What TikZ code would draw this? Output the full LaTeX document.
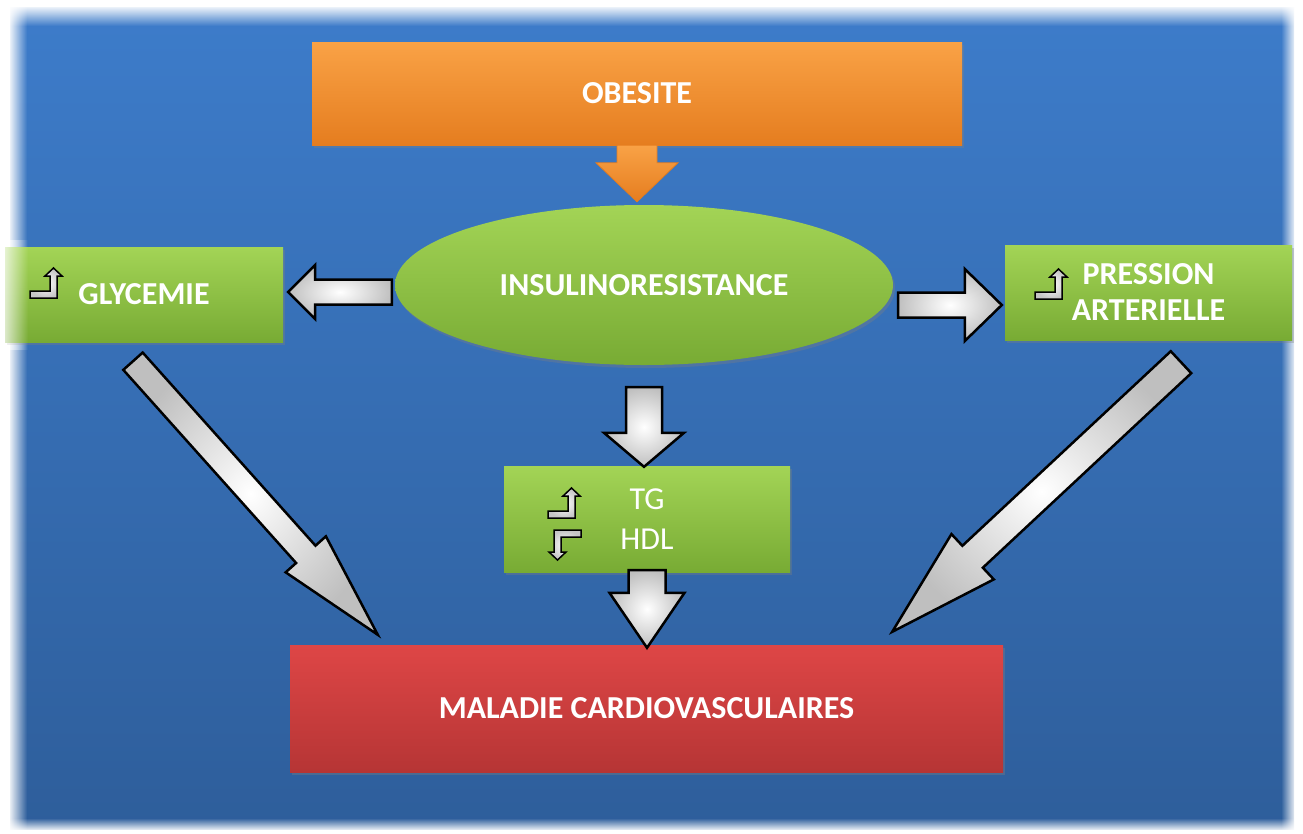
\documentclass[tikz,border=0pt]{standalone}
\usepackage{fontspec}
\setmainfont{Carlito}
\usetikzlibrary{shapes.geometric,calc,shadows,fadings}

\definecolor{bgtop}{HTML}{3D7CCA}
\definecolor{bgbot}{HTML}{2E5E9B}
\definecolor{greentop}{HTML}{A3D456}
\definecolor{greenbot}{HTML}{78AB34}
\definecolor{orangetop}{HTML}{F9A246}
\definecolor{orangebot}{HTML}{E57D1F}
\definecolor{redtop}{HTML}{DE4646}
\definecolor{redbot}{HTML}{B63535}

\tikzfading[name=fadeleft, left color=transparent!0, right color=transparent!100]
\tikzfading[name=faderight, left color=transparent!100, right color=transparent!0]
\tikzfading[name=fadetop, top color=transparent!0, bottom color=transparent!100]
\tikzfading[name=fadebot, top color=transparent!100, bottom color=transparent!0]

% block arrow: [style]{from}{to}{shaft half width}{head half width}{head length}
\newcommand{\blockarrow}[6][]{%
  \coordinate (ba-c) at ($(#3)!#6!(#2)$);
  \draw[#1] ($(#2)!#4!90:(#3)$) -- ($(ba-c)!#4!-90:(#2)$) -- ($(ba-c)!#5!-90:(#2)$)
    -- (#3) -- ($(ba-c)!#5!90:(#2)$) -- ($(ba-c)!#4!90:(#2)$) -- ($(#2)!#4!-90:(#3)$) -- cycle;
}

\tikzset{
  box/.style={rectangle, text=white, align=center, inner sep=0pt,
    font=\bfseries\fontsize{32}{36}\selectfont,
    drop shadow={shadow xshift=2pt, shadow yshift=-3pt, opacity=0.35}},
  greenbox/.style={box, top color=greentop, bottom color=greenbot},
  orangebox/.style={box, top color=orangetop, bottom color=orangebot},
  redbox/.style={box, top color=redtop, bottom color=redbot},
  grayarrow/.style={draw=black, line width=2.5pt, inner color=white, outer color=gray!50},
  orangearrow/.style={draw=orangebot, line width=0.8pt, top color=orangetop, bottom color=orangebot},
  turnicon/.pic={
    \draw[line width=1.5pt, inner color=white, outer color=gray!45]
      (-16,15) -- (11,15) -- (11,-7) -- (16,-7) -- (7.5,-15) -- (-1,-7)
      -- (4,-7) -- (4,8) -- (-16,8) -- cycle;
  }
}

\begin{document}
\begin{tikzpicture}[x=1pt, y=-1pt]
  \useasboundingbox (0,0) rectangle (1303,833);
  %this draws the background
  \fill[white] (0,0) rectangle (1303,833);
  \fill[top color=bgtop, bottom color=bgbot] (10,7) rectangle (1294,829);
  \fill[white, path fading=fadeleft] (8,5) rectangle (27,831);
  \fill[white, path fading=faderight] (1281,5) rectangle (1296,831);
  \fill[white, path fading=fadetop] (8,5) rectangle (1296,26);
  \fill[white, path fading=fadebot] (8,818) rectangle (1296,831);

  %this draws the nodes
  \node[orangebox, minimum width=650pt, minimum height=103pt] (obe) at (637,93.5) {OBESITE};
  \node[ellipse, text=white, font=\bfseries\fontsize{32}{36}\selectfont,
    minimum width=498pt, minimum height=160pt, top color=greentop, bottom color=greenbot,
    drop shadow={shadow xshift=2pt, shadow yshift=-3pt, opacity=0.35}] (ins) at (644,285) {INSULINORESISTANCE};
  \node[greenbox, minimum width=278pt, minimum height=95pt] (gly) at (144,294.5) {GLYCEMIE};
  \node[greenbox, minimum width=287pt, minimum height=95pt] (pre) at (1148.5,292.5) {PRESSION\\ARTERIELLE};
  \node[greenbox, minimum width=286pt, minimum height=106pt, font=\fontsize{32}{40}\selectfont] (tg) at (647,519) {TG\\HDL};
  \node[redbox, minimum width=713pt, minimum height=127pt] (mal) at (646.5,708.5) {MALADIE CARDIOVASCULAIRES};
  \fill[white, path fading=fadeleft, fill opacity=0.8] (3,240) rectangle (28,350);

  %this draws the small icons
  \pic at (46,283) {turnicon};
  \pic at (1051,284) {turnicon};
  \pic at (564,503) {turnicon};
  \pic[rotate=180] at (565,545) {turnicon};

  %this draws the arrows
  \coordinate (obetip) at ([yshift=3pt]obe.south |- ins.north);
  \blockarrow[orangearrow]{obe.south}{obetip}{20pt}{41pt}{39pt}
  \coordinate (insl) at ([xshift=-3pt, yshift=-7pt]ins.west);
  \coordinate (glyr) at ([xshift=5pt]gly.east |- insl);
  \blockarrow[grayarrow]{insl}{glyr}{12.5pt}{27pt}{27pt}
  \coordinate (insr) at ([xshift=5pt, yshift=-20pt]ins.east);
  \coordinate (prel) at ([xshift=-3pt]pre.west |- insr);
  \blockarrow[grayarrow]{insr}{prel}{12.5pt}{36pt}{37pt}
  \coordinate (insb) at ([yshift=-22pt]ins.south);
  \coordinate (tgt) at ([yshift=-1pt]insb |- tg.north);
  \blockarrow[grayarrow]{insb}{tgt}{18pt}{40pt}{34pt}
  \coordinate (tgb) at ([yshift=2pt]tg.south);
  \coordinate (malt) at ([yshift=-3pt]tgb |- mal.north);
  \blockarrow[grayarrow]{tgb}{malt}{18.5pt}{37.5pt}{55pt}
  \coordinate (glyb) at ([xshift=-11pt, yshift=-19pt]gly.south);
  \coordinate (mall) at ([xshift=88pt, yshift=10pt]mal.north west);
  \blockarrow[grayarrow]{glyb}{mall}{13pt}{27pt}{108pt}
  \coordinate (preb) at ([xshift=32.5pt, yshift=-22pt]pre.south);
  \coordinate (malr) at ([xshift=-111pt, yshift=13pt]mal.north east);
  \blockarrow[grayarrow]{preb}{malr}{15pt}{31pt}{110pt}
\end{tikzpicture}
\end{document}
